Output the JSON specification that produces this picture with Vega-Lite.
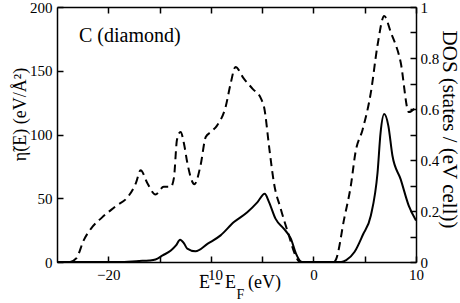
{
  "$schema": "https://vega.github.io/schema/vega-lite/v6.json",
  "autosize": "none",
  "width": 359,
  "height": 255,
  "padding": {"left": 57, "top": 7, "right": 44, "bottom": 41},
  "background": "white",
  "config": {
    "font": "Liberation Serif",
    "view": {"stroke": null},
    "text": {"font": "Liberation Serif"},
    "axis": {
      "grid": false,
      "ticks": true,
      "zindex": 1,
      "domainColor": "black",
      "domainWidth": 1.5,
      "tickColor": "black",
      "tickOpacity": 1,
      "tickWidth": 1.5,
      "labelColor": "black",
      "labelFont": "Liberation Serif",
      "labelFontSize": 15,
      "titleFont": "Liberation Serif",
      "titleFontWeight": "normal",
      "titleColor": "black",
      "labelFlush": false,
      "labelOverlap": false
    }
  },
  "datasets": {
    "eta": [
      {"E": -25, "eta": 0},
      {"E": -19, "eta": 0},
      {"E": -17, "eta": 0.8},
      {"E": -16, "eta": 1.2},
      {"E": -15.4, "eta": 2},
      {"E": -14.7, "eta": 5.2},
      {"E": -13.9, "eta": 9},
      {"E": -13.4, "eta": 13},
      {"E": -13.0, "eta": 17.5},
      {"E": -12.6, "eta": 14.4},
      {"E": -12.3, "eta": 10.5},
      {"E": -11.5, "eta": 8.4},
      {"E": -10.3, "eta": 14.4},
      {"E": -9.05, "eta": 20.9},
      {"E": -7.75, "eta": 31.3},
      {"E": -6.45, "eta": 39},
      {"E": -5.45, "eta": 47},
      {"E": -4.75, "eta": 53.5},
      {"E": -4.33, "eta": 47},
      {"E": -3.7, "eta": 34},
      {"E": -2.87, "eta": 26},
      {"E": -2.2, "eta": 18.3},
      {"E": -1.7, "eta": 6.5},
      {"E": -1.25, "eta": 0.5},
      {"E": -1.0, "eta": 0},
      {"E": 2.7, "eta": 0},
      {"E": 3.2, "eta": 1.5},
      {"E": 4.0, "eta": 7.8},
      {"E": 4.8, "eta": 21},
      {"E": 5.6, "eta": 36.5},
      {"E": 6.25, "eta": 70},
      {"E": 6.55, "eta": 101.7},
      {"E": 6.9, "eta": 116},
      {"E": 7.3, "eta": 107},
      {"E": 7.7, "eta": 83.5},
      {"E": 8.5, "eta": 65},
      {"E": 9.3, "eta": 44},
      {"E": 10, "eta": 32.6}
    ],
    "dos": [
      {"E": -23.7, "dos": 0},
      {"E": -23.1, "dos": 0.015},
      {"E": -22.4, "dos": 0.085},
      {"E": -21.7, "dos": 0.13},
      {"E": -20.6, "dos": 0.175},
      {"E": -19.3, "dos": 0.218},
      {"E": -18.0, "dos": 0.26},
      {"E": -17.3, "dos": 0.31},
      {"E": -16.85, "dos": 0.36},
      {"E": -16.2, "dos": 0.31},
      {"E": -15.4, "dos": 0.265},
      {"E": -14.6, "dos": 0.295},
      {"E": -13.9, "dos": 0.295},
      {"E": -13.6, "dos": 0.33},
      {"E": -13.3, "dos": 0.48},
      {"E": -12.95, "dos": 0.51},
      {"E": -12.6, "dos": 0.46},
      {"E": -12.3, "dos": 0.39},
      {"E": -11.6, "dos": 0.305},
      {"E": -11.0, "dos": 0.38},
      {"E": -10.5, "dos": 0.49},
      {"E": -10.0, "dos": 0.51},
      {"E": -9.4, "dos": 0.535},
      {"E": -8.55, "dos": 0.61},
      {"E": -8.07, "dos": 0.7},
      {"E": -7.6, "dos": 0.765},
      {"E": -6.8, "dos": 0.72},
      {"E": -5.95, "dos": 0.68},
      {"E": -5.1, "dos": 0.64},
      {"E": -4.8, "dos": 0.605},
      {"E": -4.3, "dos": 0.445},
      {"E": -3.85, "dos": 0.31},
      {"E": -3.2, "dos": 0.21},
      {"E": -2.4, "dos": 0.105},
      {"E": -1.8, "dos": 0.03},
      {"E": -1.3, "dos": 0},
      {"E": 2.0, "dos": 0},
      {"E": 2.2, "dos": 0.01},
      {"E": 3.0, "dos": 0.17},
      {"E": 3.65, "dos": 0.3},
      {"E": 4.1, "dos": 0.43},
      {"E": 4.8, "dos": 0.52},
      {"E": 5.6, "dos": 0.665},
      {"E": 6.25, "dos": 0.85},
      {"E": 6.9, "dos": 0.965},
      {"E": 7.55, "dos": 0.9},
      {"E": 8.5, "dos": 0.784},
      {"E": 9.3, "dos": 0.588},
      {"E": 10, "dos": 0.608}
    ]
  },
  "layer": [
    {
      "layer": [
        {
          "data": {"name": "eta"},
          "mark": {"type": "line", "color": "black", "strokeWidth": 2, "interpolate": "monotone"},
          "encoding": {
            "x": {
              "field": "E", "type": "quantitative",
              "scale": {"domain": [-25, 10], "nice": false, "zero": false},
              "axis": {
                "orient": "bottom",
                "title": null,
                "values": [-20, -15, -10, -5, 0, 5, 10],
                "labelExpr": "datum.value % 10 === 0 ? datum.label : ''",
                "tickSize": -6,
                "labelPadding": 11
              }
            },
            "y": {
              "field": "eta", "type": "quantitative",
              "scale": {"domain": [0, 200], "nice": false},
              "axis": {
                "orient": "left",
                "title": "η̃(E) (eV/Å²)",
                "titleFontSize": 18,
                "titleAngle": -90,
                "titleBaseline": "alphabetic",
                "titleAlign": "center",
                "titleX": -32,
                "titleY": 107,
                "values": [0, 25, 50, 75, 100, 125, 150, 175, 200],
                "labelExpr": "datum.value % 50 === 0 ? datum.label : ''",
                "tickSize": -6,
                "labelPadding": 11
              }
            }
          }
        },
        {
          "data": {"values": [{"label": "C (diamond)"}]},
          "mark": {"type": "text", "fontSize": 20, "align": "left", "baseline": "alphabetic", "color": "black"},
          "encoding": {
            "x": {"datum": -22.86, "type": "quantitative"},
            "y": {"datum": 172.3, "type": "quantitative"},
            "text": {"field": "label"}
          }
        },
        {
          "data": {"values": [{"label": "E - E"}]},
          "mark": {"type": "text", "fontSize": 18, "align": "right", "baseline": "alphabetic", "color": "black"},
          "encoding": {
            "x": {"datum": -7.55, "type": "quantitative"},
            "y": {"datum": -20.3, "type": "quantitative"},
            "text": {"field": "label"}
          }
        },
        {
          "data": {"values": [{"label": "F"}]},
          "mark": {"type": "text", "fontSize": 14, "align": "left", "baseline": "alphabetic", "color": "black"},
          "encoding": {
            "x": {"datum": -7.5, "type": "quantitative"},
            "y": {"datum": -28.7, "type": "quantitative"},
            "text": {"field": "label"}
          }
        },
        {
          "data": {"values": [{"label": "(eV)"}]},
          "mark": {"type": "text", "fontSize": 18, "align": "left", "baseline": "alphabetic", "color": "black"},
          "encoding": {
            "x": {"datum": -6.38, "type": "quantitative"},
            "y": {"datum": -20.3, "type": "quantitative"},
            "text": {"field": "label"}
          }
        }
      ]
    },
    {
      "data": {"name": "dos"},
      "mark": {"type": "line", "color": "black", "strokeWidth": 2, "strokeDash": [8, 5], "interpolate": "monotone"},
      "encoding": {
        "x": {
          "field": "E", "type": "quantitative",
          "scale": {"domain": [-25, 10], "nice": false, "zero": false},
          "axis": {
            "orient": "top",
            "title": null,
            "labels": false,
            "values": [-20, -15, -10, -5, 0, 5, 10],
            "tickSize": -6
          }
        },
        "y": {
          "field": "dos", "type": "quantitative",
          "scale": {"domain": [0, 1], "nice": false},
          "axis": {
            "orient": "right",
            "title": "DOS (states / (eV cell))",
            "titleFontSize": 21,
            "titleAngle": 90,
            "titleBaseline": "alphabetic",
            "titleAlign": "center",
            "titleX": 26,
            "titleY": 122,
            "values": [0, 0.1, 0.2, 0.3, 0.4, 0.5, 0.6, 0.7, 0.8, 0.9, 1],
            "format": ".1~f",
            "labelExpr": "round(datum.value * 10) % 2 === 0 ? datum.label : ''",
            "tickSize": -6,
            "labelPadding": 10
          }
        }
      }
    }
  ],
  "resolve": {"scale": {"y": "independent"}, "axis": {"x": "independent"}}
}
